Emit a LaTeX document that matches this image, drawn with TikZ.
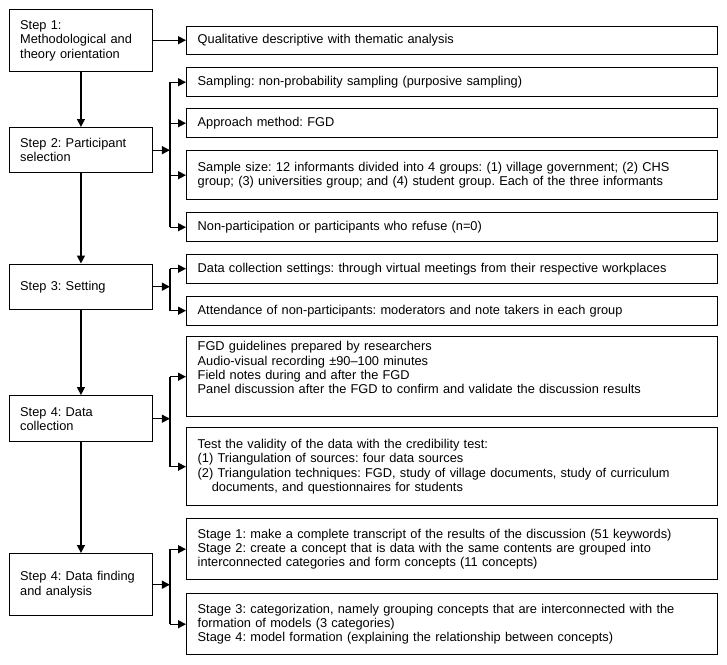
\documentclass[tikz,border=0pt]{standalone}
\usepackage{fontspec}
\setmainfont{Liberation Sans}
\usepackage{tikz}
\usetikzlibrary{positioning,arrows.meta}
\frenchspacing

\tikzset{
  stepbox/.style={draw, line width=1.4pt, anchor=north west, text width=121.5pt,
    inner xsep=11pt, inner ysep=3pt, align=left, font=\fontsize{12.8}{14.2}\selectfont},
  infobox/.style={stepbox, text width=509pt},
  arr/.style={line width=1.4pt, -{Triangle[length=8pt,width=8pt]}},
  trunk/.style={line width=1.4pt}
}

\begin{document}
\begin{tikzpicture}[x=1pt,y=-1pt]
\useasboundingbox (0,0) rectangle (727,664);

% Steps
\node[stepbox, minimum height=62pt] (s1) at (8.5,9) {Step 1:\\ Methodological and\\ theory orientation};
\node[stepbox, minimum height=45pt] (s2) at (8.5,127) {Step 2: Participant\\ selection};
\node[stepbox, minimum height=45pt] (s3) at (8.5,263.5) {Step 3: Setting};
\node[stepbox, minimum height=46pt] (s4) at (8.5,395) {Step 4: Data\\ collection};
\node[stepbox, minimum height=62pt] (s5) at (8.5,553) {Step 4: Data finding\\ and analysis};

% Details
\node[infobox, minimum height=28pt] (q1) at (186,25.5) {Qualitative descriptive with thematic analysis};
\node[infobox, minimum height=29pt] (p1) at (186,67) {Sampling: non-probability sampling (purposive sampling)};
\node[infobox, minimum height=29pt] (p2) at (186,108) {Approach method: FGD};
\node[infobox, minimum height=49pt] (p3) at (186,150) {Sample size: 12 informants divided into 4 groups: (1) village government; (2) CHS\\ group; (3) universities group; and (4) student group. Each of the three informants};
\node[infobox, minimum height=29pt] (p4) at (186,212) {Non-participation or participants who refuse (n=0)};
\node[infobox, minimum height=29pt] (t1) at (186,253.5) {Data collection settings: through virtual meetings from their respective workplaces};
\node[infobox, minimum height=29pt] (t2) at (186,295.5) {Attendance of non-participants: moderators and note takers in each group};
\node[infobox, minimum height=80pt] (c1) at (186,336) {FGD guidelines prepared by researchers\\ Audio-visual recording ±90–100 minutes\\ Field notes during and after the FGD\\ Panel discussion after the FGD to confirm and validate the discussion results\\ \strut};
\node[infobox, minimum height=78pt] (c2) at (186,427) {Test the validity of the data with the credibility test:\\ (1) Triangulation of sources: four data sources\\ (2) Triangulation techniques: FGD, study of village documents, study of curriculum\\ \hspace*{1.1em}documents, and questionnaires for students};
\node[infobox, minimum height=61pt] (a1) at (186,518) {Stage 1: make a complete transcript of the results of the discussion (51 keywords)\\ Stage 2: create a concept that is data with the same contents are grouped into\\ interconnected categories and form concepts (11 concepts)};
\node[infobox, minimum height=61pt] (a2) at (186,593) {Stage 3: categorization, namely grouping concepts that are interconnected with the\\ formation of models (3 categories)\\ Stage 4: model formation (explaining the relationship between concepts)};

% Main flow
\foreach \a/\b in {s1/s2,s2/s3,s3/s4,s4/s5}
    \draw[arr] (\a) -- (\b);

\draw[arr] (s1.east |- q1.west) -- (q1.west);

% Branches
\coordinate (j2) at ([xshift=16.5pt]s2.east);
\coordinate (j3) at ([xshift=16.5pt]s3.east);
\coordinate (j4) at ([xshift=16.5pt]s4.east);
\coordinate (j5) at ([xshift=16.5pt]s5.east);

\draw[arr] (s2.east) -- (j2);
\draw[trunk] (j2 |- p1.west) -- (j2 |- p4.west);
\foreach \r in {p1,p2,p3,p4}
    \draw[arr] (j2 |- \r.west) -- (\r.west);

\draw[arr] (s3.east) -- (j3);
\draw[trunk] (j3 |- t1.west) -- (j3 |- t2.west);
\foreach \r in {t1,t2}
    \draw[arr] (j3 |- \r.west) -- (\r.west);

\draw[arr] (s4.east) -- (j4);
\draw[trunk] (j4 |- c1.west) -- (j4 |- c2.west);
\foreach \r in {c1,c2}
    \draw[arr] (j4 |- \r.west) -- (\r.west);

\draw[arr] (s5.east) -- (j5);
\draw[trunk] (j5 |- a1.west) -- (j5 |- a2.west);
\foreach \r in {a1,a2}
    \draw[arr] (j5 |- \r.west) -- (\r.west);
\end{tikzpicture}
\end{document}
